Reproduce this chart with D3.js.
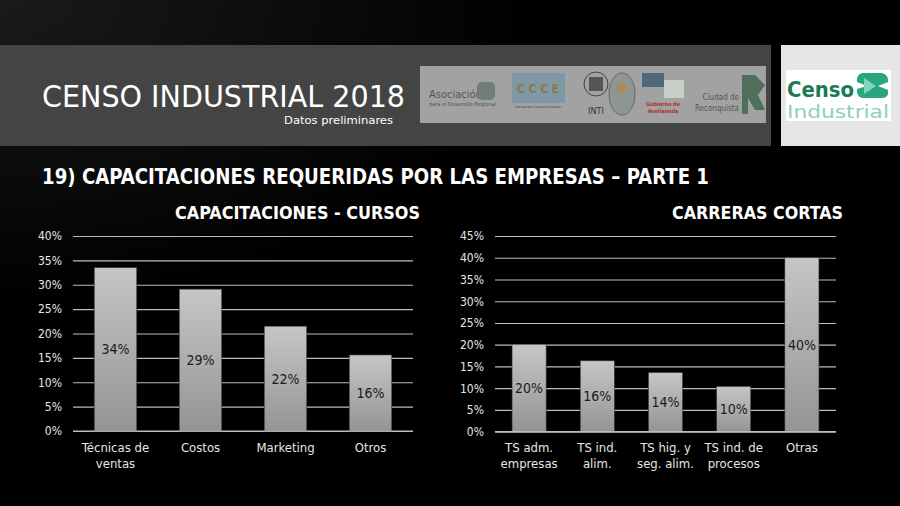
<!DOCTYPE html>
<html>
<head>
<meta charset="utf-8">
<script src="https://cdn.jsdelivr.net/npm/d3@7/dist/d3.min.js"></script>
<style>
  html, body { margin: 0; padding: 0; background: #000; }
  svg { display: block; }
  text { font-family: "DejaVu Sans Condensed", "DejaVu Sans", sans-serif; }
</style>
</head>
<body>
<script>
// ---- Data ----
const leftCategories = ["Técnicas de\nventas", "Costos", "Marketing", "Otros"];
const leftValues = [33.5, 29.1, 21.5, 15.6];
const leftTicks = [0, 5, 10, 15, 20, 25, 30, 35, 40];

const rightCategories = ["TS adm.\nempresas", "TS ind.\nalim.", "TS hig. y\nseg. alim.", "TS ind. de\nprocesos", "Otras"];
const rightValues = [20.1, 16.3, 13.6, 10.4, 40.0];
const rightTicks = [0, 5, 10, 15, 20, 25, 30, 35, 40, 45];

const W = 900, H = 506;
const svg = d3.select("body").append("svg").attr("width", W).attr("height", H);
const defs = svg.append("defs");

// background
const bg = defs.append("radialGradient").attr("id", "bgGrad").attr("cx", "0%").attr("cy", "0%").attr("r", "60%");
bg.append("stop").attr("offset", "0%").attr("stop-color", "#1a1a1a");
bg.append("stop").attr("offset", "100%").attr("stop-color", "#000");
svg.append("rect").attr("width", W).attr("height", H).attr("fill", "url(#bgGrad)");

const barGrad = defs.append("linearGradient").attr("id", "barGrad").attr("x1", 0).attr("y1", 0).attr("x2", 0).attr("y2", 1);
barGrad.append("stop").attr("offset", "0%").attr("stop-color", "#c6c6c6");
barGrad.append("stop").attr("offset", "100%").attr("stop-color", "#949494");

// ---- Header band ----
svg.append("rect").attr("x", 0).attr("y", 45).attr("width", 771).attr("height", 101).attr("fill", "#444444");
svg.append("rect").attr("x", 781).attr("y", 45).attr("width", 119).attr("height", 101).attr("fill", "#e6e6e6");

svg.append("text").attr("x", 42).attr("y", 107).attr("fill", "#fff")
  .attr("font-size", 31).attr("textLength", 363).attr("lengthAdjust", "spacingAndGlyphs")
  .text("CENSO INDUSTRIAL 2018");
svg.append("text").attr("x", 284).attr("y", 124).attr("fill", "#fff")
  .attr("font-size", 11).attr("textLength", 109).attr("lengthAdjust", "spacingAndGlyphs")
  .text("Datos preliminares");

// logos strip
const lg = svg.append("g");
lg.append("rect").attr("x", 420).attr("y", 66).attr("width", 346).attr("height", 57).attr("fill", "#a2a2a2");
lg.append("text").attr("x", 429).attr("y", 98).attr("font-size", 11).attr("fill", "#555").text("Asociación");
lg.append("text").attr("x", 429).attr("y", 106).attr("font-size", 5.5).attr("fill", "#555").text("para el Desarrollo Regional");
lg.append("rect").attr("x", 477).attr("y", 82).attr("width", 18).attr("height", 18).attr("rx", 5).attr("fill", "#6f7f78");
lg.append("rect").attr("x", 512).attr("y", 73).attr("width", 53).attr("height", 30).attr("fill", "#7f98a6");
lg.append("text").attr("x", 538).attr("y", 93).attr("font-size", 12).attr("font-weight", "bold").attr("text-anchor", "middle").attr("fill", "#8a7a45").text("C C C E");
lg.append("text").attr("x", 538).attr("y", 108).attr("font-size", 3.5).attr("text-anchor", "middle").attr("fill", "#444").text("Cámara de Comercio Exterior");
lg.append("circle").attr("cx", 596).attr("cy", 84).attr("r", 12).attr("fill", "none").attr("stroke", "#444").attr("stroke-width", 1);
lg.append("rect").attr("x", 589).attr("y", 77).attr("width", 14).attr("height", 14).attr("fill", "#555");
lg.append("text").attr("x", 596).attr("y", 114).attr("font-size", 9).attr("text-anchor", "middle").attr("fill", "#333").attr("font-family", "Liberation Serif").text("INTI");
lg.append("ellipse").attr("cx", 622).attr("cy", 94).attr("rx", 13).attr("ry", 21).attr("fill", "#8d9690").attr("stroke", "#666");
lg.append("circle").attr("cx", 622).attr("cy", 88).attr("r", 5).attr("fill", "#b08a5a");
lg.append("rect").attr("x", 642).attr("y", 73).attr("width", 22).attr("height", 14).attr("fill", "#4a6a7a");
lg.append("rect").attr("x", 664).attr("y", 80).attr("width", 20).attr("height", 18).attr("fill", "#c8d0c8");
lg.append("text").attr("x", 663).attr("y", 106).attr("font-size", 5.5).attr("font-weight", "bold").attr("text-anchor", "middle").attr("fill", "#b03030").text("Gobierno de");
lg.append("text").attr("x", 663).attr("y", 113).attr("font-size", 5.5).attr("font-weight", "bold").attr("text-anchor", "middle").attr("fill", "#b03030").text("Avellaneda");
lg.append("text").attr("x", 739).attr("y", 100).attr("font-size", 8).attr("text-anchor", "end").attr("fill", "#555").text("Ciudad de");
lg.append("text").attr("x", 739).attr("y", 111).attr("font-size", 8).attr("text-anchor", "end").attr("fill", "#555").text("Reconquista");
lg.append("path").attr("d", "M742,75 L755,75 L765,85 L758,95 L765,110 L755,110 L748,98 L748,114 L742,114 Z").attr("fill", "#4f6e5c");

// Censo logo
svg.append("rect").attr("x", 786).attr("y", 70).attr("width", 105).attr("height", 51).attr("fill", "#fff");
svg.append("text").attr("x", 787).attr("y", 97).attr("font-size", 22).attr("font-weight", "bold").attr("fill", "#1b7a52")
  .attr("font-family", "Open Sans").attr("textLength", 67).attr("lengthAdjust", "spacingAndGlyphs").text("Censo");
svg.append("path").attr("d", "M862,73 L882,73 Q889,75 888,82 L878,86 L888,90 Q889,98 882,98 L862,98 Q856,96 857,89 L867,86 L857,82 Q856,75 862,73 Z")
  .attr("fill", "#2aa57f");
svg.append("path").attr("d", "M864,78 L876,86 L864,94 Z").attr("fill", "#7fd6bd");
svg.append("text").attr("x", 787).attr("y", 118).attr("font-size", 18).attr("fill", "#8fcfb6")
  .attr("font-family", "Open Sans").attr("textLength", 102).attr("lengthAdjust", "spacingAndGlyphs").text("Industrial");

// Heading
svg.append("text").attr("x", 42).attr("y", 184).attr("fill", "#fff")
  .attr("font-size", 21).attr("font-weight", "bold")
  .attr("textLength", 667).attr("lengthAdjust", "spacingAndGlyphs")
  .text("19) CAPACITACIONES REQUERIDAS POR LAS EMPRESAS – PARTE 1");

// ---- Chart function ----
function drawChart(cfg) {
  const g = svg.append("g");
  const y = d3.scaleLinear().domain([0, cfg.max]).range([cfg.y0, cfg.y1]);
  const x = d3.scaleBand().domain(cfg.categories).range([cfg.x0, cfg.x1]).paddingInner(0.5).paddingOuter(0.25);

  // title
  g.append("text").attr("x", cfg.titleX).attr("y", 219).attr("fill", "#fff")
    .attr("font-size", 17).attr("font-weight", "bold")
    .attr("textLength", cfg.titleW).attr("lengthAdjust", "spacingAndGlyphs")
    .text(cfg.title);

  // gridlines
  const yAxis = d3.axisLeft(y).tickValues(cfg.ticks).tickSize(-(cfg.x1 - cfg.x0)).tickPadding(cfg.tickPad)
    .tickFormat(d => d + "%");
  const ax = g.append("g").attr("transform", `translate(${cfg.x0},0)`).call(yAxis);
  ax.select(".domain").remove();
  ax.selectAll(".tick line").attr("stroke", "#bdbdbd").attr("stroke-width", 1.2);
  ax.selectAll(".tick text").attr("fill", "#e6e6e6").attr("font-size", 12).attr("font-family", "DejaVu Sans Condensed");

  // bars
  g.selectAll("rect.bar").data(cfg.values).enter().append("rect").attr("class", "bar")
    .attr("x", (d, i) => x(cfg.categories[i]))
    .attr("width", x.bandwidth())
    .attr("y", d => y(d))
    .attr("height", d => y(0) - y(d))
    .attr("fill", "url(#barGrad)")
    .attr("stroke", "#3a3a3a").attr("stroke-width", 0.6);

  // baseline
  g.append("line").attr("x1", cfg.x0).attr("x2", cfg.x1).attr("y1", y(0)).attr("y2", y(0))
    .attr("stroke", "#bdbdbd").attr("stroke-width", 1.2);

  // value labels
  g.selectAll("text.val").data(cfg.values).enter().append("text").attr("class", "val")
    .attr("x", (d, i) => x(cfg.categories[i]) + x.bandwidth() / 2)
    .attr("y", d => (y(d) + y(0)) / 2 + 5)
    .attr("text-anchor", "middle").attr("font-size", 14).attr("fill", "#1a1a1a")
    .text(d => Math.round(d) + "%");

  // category labels
  cfg.categories.forEach(c => {
    const t = g.append("text").attr("x", x(c) + x.bandwidth() / 2).attr("y", 452)
      .attr("text-anchor", "middle").attr("font-size", 13).attr("fill", "#e6e6e6");
    c.split("\n").forEach((line, k) => {
      t.append("tspan").attr("x", x(c) + x.bandwidth() / 2).attr("dy", k === 0 ? 0 : 15.5).text(line);
    });
  });
}

drawChart({
  categories: leftCategories, values: leftValues, ticks: leftTicks, max: 40,
  x0: 73, x1: 413, y0: 431, y1: 236, tickPad: 11,
  title: "CAPACITACIONES - CURSOS", titleX: 175, titleW: 245
});
drawChart({
  categories: rightCategories, values: rightValues, ticks: rightTicks, max: 45,
  x0: 495, x1: 836, y0: 431.7, y1: 236, tickPad: 11,
  title: "CARRERAS CORTAS", titleX: 672, titleW: 171
});
</script>
</body>
</html>
